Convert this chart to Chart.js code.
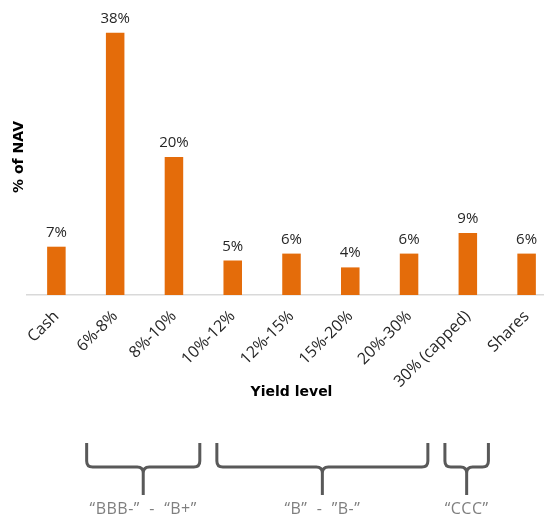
<!DOCTYPE html>
<html>
<head>
<meta charset="utf-8">
<script src="https://cdn.jsdelivr.net/npm/chart.js@4"></script>
<style>
  html, body { margin: 0; padding: 0; background: #fff; overflow: hidden; }
  #wrap { position: relative; width: 556px; height: 521px; }
</style>
</head>
<body>
<div id="wrap"><canvas id="c" width="556" height="521"></canvas></div>
<script>
// Portfolio breakdown by yield bucket (% of NAV)
const categories = ['Cash', '6%-8%', '8%-10%', '10%-12%', '12%-15%', '15%-20%', '20%-30%', '30% (capped)', 'Shares'];
const navShare = [7, 38, 20, 5, 6, 4, 6, 9, 6];

// Rating bands spanning groups of yield buckets
const ratingLabels = ['“BBB-”  -  “B+”', '“B”  -  ”B-”', '“CCC”'];
const ratingFirst = [1, 3, 7];
const ratingLast = [2, 6, 7];

const BAR_COLOR = '#E46C0A';
const TEXT_COLOR = '#262626';
const BODY_FONT = '"Open Sans", "Liberation Sans", Arial, sans-serif';

// Brace extents relative to first/last bucket centre, in bucket widths
const braceInset = [[-0.485, 0.44], [-0.27, 0.32], [-0.39, 0.35]];

const valueLabels = {
  id: 'valueLabels',
  afterDatasetsDraw(chart) {
    const ctx = chart.ctx;
    const meta = chart.getDatasetMeta(0);
    ctx.save();
    ctx.font = '15px ' + BODY_FONT;
    ctx.fillStyle = TEXT_COLOR;
    ctx.textAlign = 'center';
    ctx.textBaseline = 'alphabetic';
    meta.data.forEach((bar, i) => {
      ctx.fillText(navShare[i] + '%', bar.x, bar.y - 10);
    });
    ctx.restore();
  }
};

const ratingBraces = {
  id: 'ratingBraces',
  afterDraw(chart) {
    const ctx = chart.ctx;
    const xs = chart.scales.x;
    const step = xs.getPixelForValue(1) - xs.getPixelForValue(0);
    const top = 443, mid = 467, tip = 495, r = 6;
    ctx.save();
    ctx.strokeStyle = '#595959';
    ctx.lineWidth = 3;
    ctx.lineCap = 'butt';
    ctx.lineJoin = 'round';
    ratingLabels.forEach((label, g) => {
      const x0 = xs.getPixelForValue(ratingFirst[g]) + braceInset[g][0] * step;
      const x1 = xs.getPixelForValue(ratingLast[g]) + braceInset[g][1] * step;
      const cx = (x0 + x1) / 2;
      ctx.beginPath();
      ctx.moveTo(x0, top);
      ctx.lineTo(x0, mid - r);
      ctx.quadraticCurveTo(x0, mid, x0 + r, mid);
      ctx.lineTo(cx - r, mid);
      ctx.quadraticCurveTo(cx, mid, cx, mid + r);
      ctx.lineTo(cx, tip);
      ctx.moveTo(cx, mid + r);
      ctx.quadraticCurveTo(cx, mid, cx + r, mid);
      ctx.lineTo(x1 - r, mid);
      ctx.quadraticCurveTo(x1, mid, x1, mid - r);
      ctx.lineTo(x1, top);
      ctx.stroke();

      ctx.font = '16px ' + BODY_FONT;
      ctx.letterSpacing = '0.5px';
      ctx.fillStyle = '#7F7F7F';
      ctx.textAlign = 'center';
      ctx.textBaseline = 'middle';
      ctx.fillText(label, cx, 509);
    });
    ctx.restore();
  }
};

new Chart(document.getElementById('c'), {
  type: 'bar',
  data: {
    labels: categories,
    datasets: [{
      data: navShare,
      backgroundColor: BAR_COLOR,
      borderWidth: 0,
      barPercentage: 0.315,
      categoryPercentage: 1
    }]
  },
  options: {
    responsive: false,
    animation: false,
    devicePixelRatio: 1,
    layout: {
      autoPadding: false,
      padding: { top: 19, bottom: 120, left: 0, right: 0 }
    },
    plugins: {
      legend: { display: false },
      tooltip: { enabled: false }
    },
    scales: {
      x: {
        grid: { display: false, drawTicks: false },
        border: { display: true, color: '#D9D9D9', width: 1.5 },
        ticks: {
          autoSkip: false,
          minRotation: 45,
          maxRotation: 45,
          padding: 12,
          color: TEXT_COLOR,
          font: { family: BODY_FONT, size: 16 }
        },
        title: {
          display: true,
          text: 'Yield level',
          color: '#000',
          padding: 0,
          font: { family: '"DejaVu Sans", sans-serif', size: 14, weight: 'bold' }
        },
        afterFit(scale) { scale.height = 106; }
      },
      y: {
        min: 0,
        max: 40,
        grid: { display: false, drawTicks: false },
        border: { display: false },
        ticks: { display: false },
        title: {
          display: true,
          text: '% of NAV',
          color: '#000',
          padding: { top: 11, bottom: 0 },
          font: { family: '"DejaVu Sans", sans-serif', size: 14, weight: 'bold' }
        },
        afterFit(scale) { scale.width = 27; }
      }
    }
  },
  plugins: [valueLabels, ratingBraces]
});
</script>
</body>
</html>
